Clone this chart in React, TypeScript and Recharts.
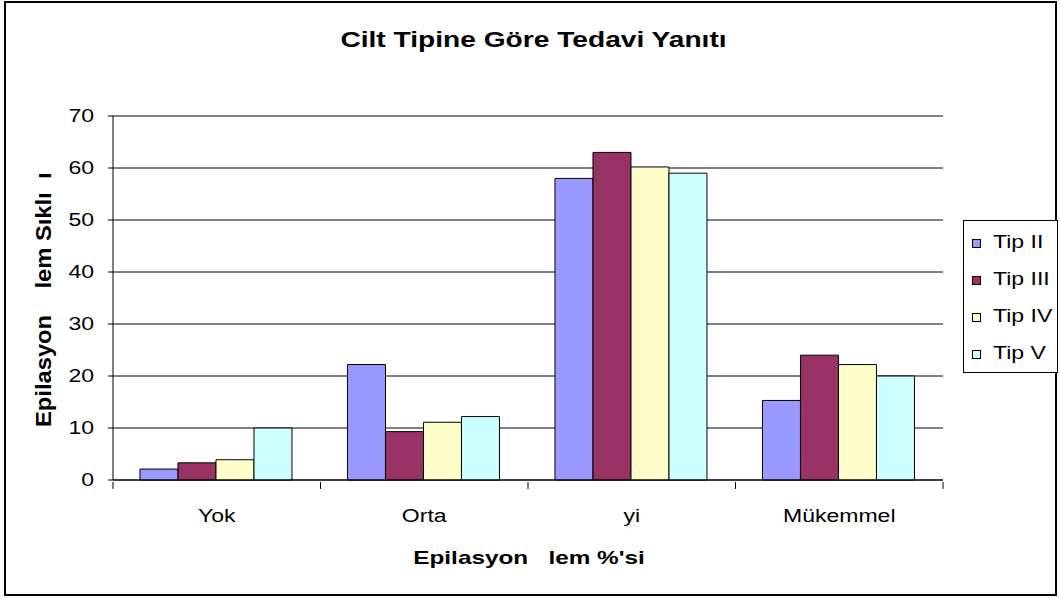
import React from 'react';
import { BarChart, Bar, XAxis, YAxis, CartesianGrid, Legend } from 'recharts';

const categories = ['Yok', 'Orta', 'yi', 'Mükemmel'];
const tipII = [2.1, 22.2, 58, 15.3];
const tipIII = [3.3, 9.3, 63, 24];
const tipIV = [3.9, 11.1, 60.2, 22.2];
const tipV = [10, 12.2, 59, 20];
const seriesNames = ['Tip II', 'Tip III', 'Tip IV', 'Tip V'];
const seriesKeys = ['tipII', 'tipIII', 'tipIV', 'tipV'];
const seriesColors = ['#9999FF', '#993366', '#FFFFCC', '#CCFFFF'];
const yTicks = [0, 10, 20, 30, 40, 50, 60, 70];

const data = categories.map((name, i) => ({
  name,
  tipII: tipII[i],
  tipIII: tipIII[i],
  tipIV: tipIV[i],
  tipV: tipV[i],
}));

const FONT = '"Liberation Sans", Arial, sans-serif';
// the reference is drawn a bit wider than normal glyphs
const STRETCH = 1.28;

function YTick({ x, y, payload }: any) {
  return (
    <text
      transform={`translate(${x},${y}) scale(${STRETCH},1)`}
      textAnchor="end"
      dy="0.36em"
      fontSize={18}
      fontFamily={FONT}
      fill="#000"
    >
      {payload.value}
    </text>
  );
}

function CategoryTick({ x, y, payload, index }: any) {
  const half = payload.offset ?? 103.75;
  return (
    <g>
      <line x1={x - half} x2={x - half} y1={y} y2={y + 7} stroke="#000" />
      {index === categories.length - 1 && <line x1={x + half} x2={x + half} y1={y} y2={y + 7} stroke="#000" />}
      <text
        transform={`translate(${x},${y + 40}) scale(${STRETCH},1)`}
        textAnchor="middle"
        fontSize={18}
        fontFamily={FONT}
        fill="#000"
      >
        {payload.value}
      </text>
    </g>
  );
}

function LegendBox() {
  return (
    <div
      style={{
        position: 'relative',
        width: 95,
        height: 153,
        border: '1px solid #000',
        boxSizing: 'border-box',
        background: '#fff',
        fontFamily: FONT,
        fontSize: 18,
      }}
    >
      {seriesNames.map((n, i) => (
        <div key={n} style={{ position: 'absolute', left: 8, top: 22 + i * 37 - 5, height: 10, display: 'flex', alignItems: 'center' }}>
          <span style={{ width: 9, height: 9, border: '1px solid #000', background: seriesColors[i], boxSizing: 'border-box' }} />
          <span
            style={{
              position: 'absolute',
              left: 21,
              top: -6,
              lineHeight: '20px',
              whiteSpace: 'nowrap',
              transform: `scaleX(${STRETCH})`,
              transformOrigin: 'left center',
            }}
          >
            {n}
          </span>
        </div>
      ))}
    </div>
  );
}

export default function App() {
  return (
    <div style={{ position: 'absolute', left: 0, top: 0, width: 1060, height: 598, background: '#fff' }}>
      <div
        style={{
          position: 'absolute',
          left: 4,
          top: 1,
          width: 1053,
          height: 595,
          border: '2px solid #000',
          boxSizing: 'border-box',
        }}
      />
      {/* right margin leaves room for the legend width that recharts reserves */}
      <BarChart
        width={1060}
        height={598}
        data={data}
        margin={{ top: 116, right: 22, left: 43, bottom: 78 }}
        barCategoryGap="13%"
        barGap={0}
      >
        <CartesianGrid vertical={false} stroke="#000" />
        <XAxis
          dataKey="name"
          height={40}
          interval={0}
          tickLine={false}
          tickSize={0}
          axisLine={{ stroke: '#000' }}
          tick={<CategoryTick />}
        />
        <XAxis xAxisId="top" dataKey="name" orientation="top" height={0} tick={false} tickLine={false} axisLine={{ stroke: '#808080' }} />
        <YAxis
          domain={[0, 70]}
          ticks={yTicks}
          width={70}
          tickSize={5}
          tickMargin={14}
          tickLine={{ stroke: '#000' }}
          axisLine={{ stroke: '#000' }}
          tick={<YTick />}
        />
        <YAxis yAxisId="right" orientation="right" domain={[0, 70]} width={0} tick={false} tickLine={false} axisLine={{ stroke: '#808080' }} />
        <Legend
          layout="horizontal"
          verticalAlign="middle"
          align="right"
          wrapperStyle={{ left: 963, top: 220, width: 95, height: 153 }}
          content={() => <LegendBox />}
        />
        {seriesKeys.map((k, i) => (
          <Bar key={k} dataKey={k} name={seriesNames[i]} fill={seriesColors[i]} stroke="#000" strokeWidth={1} isAnimationActive={false} />
        ))}
      </BarChart>
      <svg width={1060} height={598} style={{ position: 'absolute', left: 0, top: 0, pointerEvents: 'none' }}>
        <g fontFamily={FONT} fontWeight="bold" fill="#000">
          <text transform={`translate(533.5,47) scale(${STRETCH},1)`} textAnchor="middle" fontSize={22}>
            Cilt Tipine Göre Tedavi Yanıtı
          </text>
          <text transform={`translate(529,564) scale(${STRETCH},1)`} textAnchor="middle" fontSize={19} style={{ whiteSpace: 'pre' }}>
            {'Epilasyon   lem %\'si'}
          </text>
          <text transform={`translate(51,427) rotate(-90) scale(1.25,1.15)`} textAnchor="start" fontSize={19} style={{ whiteSpace: 'pre' }}>
            {'Epilasyon    lem Sıklı  ı'}
          </text>
        </g>
      </svg>
    </div>
  );
}
